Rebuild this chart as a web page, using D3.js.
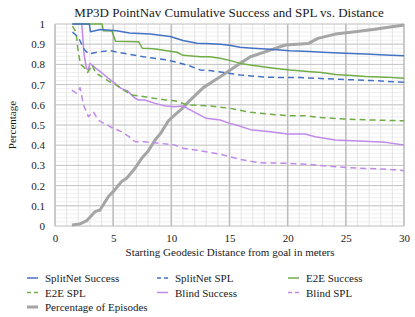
<!DOCTYPE html>
<html>
<head>
<meta charset="utf-8">
<script src="https://cdn.jsdelivr.net/npm/d3@7"></script>
<style>
  body { margin: 0; background: #fff; }
  text { font-family: "Liberation Serif", "Times New Roman", serif; fill: #1a1a1a; }
</style>
</head>
<body>
<div id="chart"></div>
<script>
'use strict';

// [distance, value] pairs
const splitnetSuccess = [[1.5,1],[2.95,1],[3.05,0.962],[3.9,0.973],[5.3,0.967],[6.4,0.955],[8.2,0.95],[9.9,0.938],[11,0.918],[12.2,0.905],[13,0.903],[14.2,0.9],[15,0.895],[15.9,0.885],[17,0.88],[18.5,0.875],[20.2,0.868],[21.9,0.864],[23,0.86],[24.9,0.855],[26.7,0.852],[28.4,0.847],[30,0.843]]
const splitnetSPL = [[1.5,0.96],[2.0,0.935],[2.5,0.875],[2.9,0.852],[3.4,0.858],[3.9,0.863],[4.7,0.868],[5.9,0.855],[7.6,0.838],[9.6,0.822],[10.5,0.81],[11.6,0.792],[12.5,0.772],[13.3,0.77],[15.9,0.748],[18.2,0.736],[21,0.735],[24.5,0.726],[27.3,0.72],[30,0.711]]
const e2eSuccess = [[1.5,1],[4.05,1],[4.15,0.967],[4.9,0.965],[5.2,0.915],[7.2,0.912],[7.5,0.88],[8.5,0.877],[9.6,0.868],[10.5,0.86],[11,0.845],[12.5,0.838],[13.3,0.838],[14.2,0.83],[15,0.82],[15.9,0.805],[17.7,0.79],[19,0.78],[20.2,0.772],[22,0.764],[22.9,0.76],[24.1,0.75],[25.5,0.745],[26.7,0.74],[28.4,0.737],[30,0.731]]
const e2eSPL = [[1.5,0.99],[1.8,0.96],[2.0,0.86],[2.2,0.8],[2.5,0.785],[2.8,0.76],[3.2,0.797],[3.5,0.757],[4.0,0.74],[4.7,0.714],[5.2,0.7],[5.7,0.68],[6.6,0.649],[7.7,0.64],[8.5,0.632],[9.5,0.624],[10.3,0.62],[11.3,0.6],[13.3,0.594],[15,0.583],[16.8,0.563],[18.5,0.553],[20,0.546],[21.5,0.546],[22.6,0.538],[24.9,0.53],[26.9,0.525],[30,0.521]]
const blindSuccess = [[1.5,1],[2.3,1],[2.5,0.85],[2.7,0.78],[2.85,0.772],[3.0,0.805],[3.4,0.785],[3.9,0.764],[4.5,0.735],[5,0.714],[5.7,0.68],[6.2,0.67],[6.9,0.632],[7.2,0.624],[7.7,0.624],[8.6,0.607],[9.5,0.594],[10.3,0.59],[11,0.594],[11.9,0.566],[13,0.533],[14.2,0.525],[15,0.508],[15.6,0.5],[16.8,0.477],[18.5,0.467],[20,0.455],[21.5,0.455],[22.35,0.442],[24.1,0.426],[26.1,0.421],[28.4,0.414],[30,0.401]]
const blindSPL = [[1.45,0.673],[1.85,0.657],[2.15,0.685],[2.45,0.6],[2.87,0.541],[3.3,0.566],[3.7,0.525],[4.3,0.505],[5,0.484],[5.7,0.467],[6.3,0.445],[6.9,0.417],[7.7,0.417],[8.9,0.41],[10.3,0.401],[11,0.385],[12.2,0.375],[14.2,0.355],[15.9,0.33],[17.6,0.313],[20.2,0.31],[21.9,0.305],[23.9,0.294],[26.2,0.286],[28.5,0.281],[30,0.274]]
const episodes = [[1.45,0.005],[2.15,0.01],[2.7,0.025],[3.44,0.071],[3.87,0.079],[4.58,0.145],[5,0.17],[5.73,0.22],[6.16,0.236],[6.88,0.286],[7.45,0.335],[8,0.37],[8.6,0.426],[9.1,0.46],[9.74,0.52],[10.3,0.55],[11,0.585],[11.6,0.622],[12.75,0.685],[13.76,0.723],[14.2,0.739],[15.9,0.805],[16.8,0.838],[18.5,0.871],[19.8,0.896],[21.8,0.904],[22.6,0.929],[24.1,0.95],[25.8,0.962],[27.5,0.974],[30,0.995]]

const xTicks = [0, 5, 10, 15, 20, 25, 30]
const yTicks = [0, 0.1, 0.2, 0.3, 0.4, 0.5, 0.6, 0.7, 0.8, 0.9, 1]

const series = [
  {name: 'SplitNet Success', data: splitnetSuccess, color: '#4472C4', dash: null, width: 1.5},
  {name: 'SplitNet SPL', data: splitnetSPL, color: '#4472C4', dash: '6,4', width: 1.5},
  {name: 'E2E Success', data: e2eSuccess, color: '#70AD47', dash: null, width: 1.5},
  {name: 'E2E SPL', data: e2eSPL, color: '#70AD47', dash: '6,4', width: 1.5},
  {name: 'Blind Success', data: blindSuccess, color: '#C08AEB', dash: null, width: 1.5},
  {name: 'Blind SPL', data: blindSPL, color: '#C08AEB', dash: '6,4', width: 1.5},
  {name: 'Percentage of Episodes', data: episodes, color: '#A5A5A5', dash: null, width: 3}
]

const dims = {width: 415, height: 317, margin: {top: 24, left: 55, right: 11, bottom: 91}}
dims.ctrWidth = dims.width - dims.margin.left - dims.margin.right
dims.ctrHeight = dims.height - dims.margin.top - dims.margin.bottom

const svg = d3.select('#chart').append('svg')
  .attr('width', dims.width)
  .attr('height', dims.height)

const x = d3.scaleLinear().domain([0, 30]).range([0, dims.ctrWidth])
const y = d3.scaleLinear().domain([0, 1]).range([dims.ctrHeight, 0])

const g = svg.append('g')
  .attr('transform', `translate(${dims.margin.left},${dims.margin.top})`)

// minor grid
g.append('g').selectAll('line')
  .data(d3.range(0, 1.0001, 0.02))
  .join('line')
  .attr('x1', 0).attr('x2', dims.ctrWidth)
  .attr('y1', d => y(d)).attr('y2', d => y(d))
  .attr('stroke', '#efefef').attr('stroke-width', 1)
g.append('g').selectAll('line')
  .data(d3.range(0, 31, 1))
  .join('line')
  .attr('y1', 0).attr('y2', dims.ctrHeight)
  .attr('x1', d => x(d)).attr('x2', d => x(d))
  .attr('stroke', '#e4e4e4').attr('stroke-width', 1)

// major grid
g.append('g').selectAll('line')
  .data(yTicks)
  .join('line')
  .attr('x1', 0).attr('x2', dims.ctrWidth)
  .attr('y1', d => y(d)).attr('y2', d => y(d))
  .attr('stroke', '#c4c4c4').attr('stroke-width', 1)
g.append('g').selectAll('line')
  .data(xTicks)
  .join('line')
  .attr('y1', 0).attr('y2', dims.ctrHeight)
  .attr('x1', d => x(d)).attr('x2', d => x(d))
  .attr('stroke', '#bdbdbd').attr('stroke-width', 1.5)

// axes (labels only)
const xAxis = g.append('g')
  .attr('transform', `translate(0,${dims.ctrHeight})`)
  .call(d3.axisBottom(x).tickValues(xTicks).tickSize(0).tickPadding(8))
xAxis.attr('font-family', null)
xAxis.select('.domain').remove()
xAxis.selectAll('text').style('font-size', '11px')

const yAxis = g.append('g')
  .call(d3.axisLeft(y).tickValues(yTicks).tickFormat(d => d3.format('~g')(d)).tickSize(0).tickPadding(10))
yAxis.attr('font-family', null)
yAxis.select('.domain').remove()
yAxis.selectAll('text').style('font-size', '11px')

// lines
g.append('clipPath').attr('id', 'clip')
  .append('rect').attr('x', 0).attr('y', -2).attr('width', dims.ctrWidth + 2).attr('height', dims.ctrHeight + 4)

const line = d3.line().x(d => x(d[0])).y(d => y(d[1]))
const linesG = g.append('g').attr('clip-path', 'url(#clip)')
series.slice().reverse().forEach(s => {
  linesG.append('path')
    .datum(s.data)
    .attr('fill', 'none')
    .attr('stroke', s.color)
    .attr('stroke-width', s.width)
    .attr('stroke-dasharray', s.dash)
    .attr('stroke-linejoin', 'round')
    .attr('d', line)
})

// title
svg.append('text')
  .attr('x', 229).attr('y', 17)
  .attr('text-anchor', 'middle')
  .style('font-size', '13px')
  .text('MP3D PointNav Cumulative Success and SPL vs. Distance')

// axis titles
svg.append('text')
  .attr('x', 230).attr('y', 256)
  .attr('text-anchor', 'middle')
  .style('font-size', '11px')
  .text('Starting Geodesic Distance from goal in meters')

svg.append('text')
  .attr('transform', `translate(16,${dims.margin.top + dims.ctrHeight / 2}) rotate(-90)`)
  .attr('text-anchor', 'middle')
  .style('font-size', '11px')
  .text('Percentage')

// legend
const colX = [27, 157, 288]
const rowY = [278, 292.5, 307]
const legend = svg.append('g')
series.forEach((s, i) => {
  const lx = colX[i % 3]
  const ly = rowY[Math.floor(i / 3)]
  legend.append('line')
    .attr('x1', lx).attr('x2', lx + 11)
    .attr('y1', ly).attr('y2', ly)
    .attr('stroke', s.color)
    .attr('stroke-width', s.width)
    .attr('stroke-dasharray', s.dash ? '4,3' : null)
  legend.append('text')
    .attr('x', lx + 18).attr('y', ly + 4)
    .style('font-size', '11px')
    .text(s.name)
})
</script>
</body>
</html>
